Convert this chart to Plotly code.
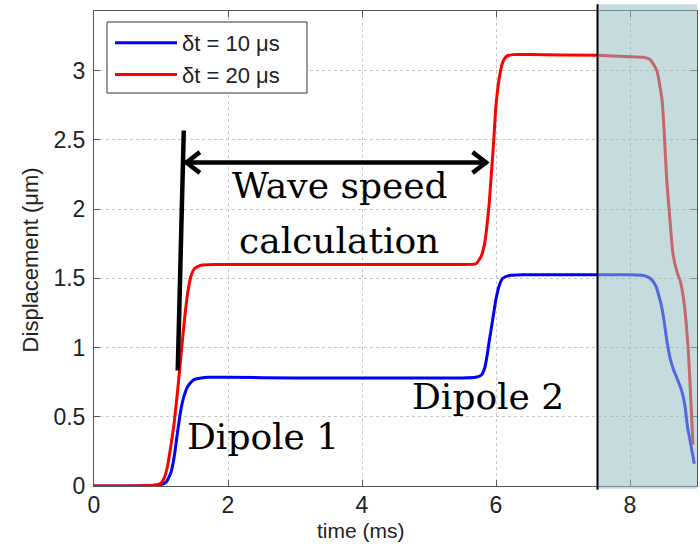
import plotly.graph_objects as go

# ---- data ----
t_blue = [0, 0.5, 1.0, 1.08, 1.15, 1.2, 1.25, 1.3, 1.35, 1.4, 1.45, 1.5, 1.6, 1.7, 2.0, 3.0, 4.0, 5.0,
          5.5, 5.7, 5.78, 5.83, 5.87, 5.9, 5.95, 6.0, 6.05, 6.1, 6.2, 6.4, 7.0, 8.0, 8.2, 8.3, 8.38,
          8.45, 8.5, 8.55, 8.6, 8.65, 8.7, 8.77, 8.82, 8.86, 8.9, 8.96]
d_blue = [0, 0, 0.01, 0.03, 0.1, 0.22, 0.4, 0.56, 0.66, 0.72, 0.75, 0.77, 0.78, 0.785, 0.785, 0.78, 0.78, 0.78,
          0.78, 0.785, 0.80, 0.85, 0.95, 1.05, 1.2, 1.35, 1.45, 1.5, 1.52, 1.525, 1.525, 1.525, 1.52, 1.50, 1.45,
          1.34, 1.22, 1.05, 0.92, 0.84, 0.78, 0.69, 0.58, 0.42, 0.32, 0.16]

t_red = [0, 0.5, 0.9, 1.0, 1.05, 1.1, 1.15, 1.2, 1.25, 1.3, 1.35, 1.4, 1.45, 1.5, 1.6, 1.8, 2.5, 3.5, 4.5,
         5.5, 5.7, 5.78, 5.83, 5.87, 5.9, 5.93, 5.96, 6.0, 6.05, 6.1, 6.15, 6.25, 6.5, 7.5, 8.0, 8.2, 8.3,
         8.4, 8.48, 8.55, 8.6, 8.64, 8.7, 8.75, 8.8, 8.87, 8.91, 8.94]
d_red = [0, 0, 0.005, 0.02, 0.06, 0.15, 0.3, 0.47, 0.7, 0.95, 1.2, 1.4, 1.52, 1.57, 1.595, 1.6, 1.6, 1.6, 1.6,
         1.6, 1.605, 1.66, 1.75, 1.9, 2.05, 2.25, 2.45, 2.75, 2.95, 3.06, 3.1, 3.115, 3.115, 3.11, 3.10, 3.095,
         3.08, 3.0, 2.78, 2.2, 1.9, 1.68, 1.55, 1.48, 1.35, 0.98, 0.6, 0.3]

series_names = ["δt = 10 μs", "δt = 20 μs"]
x_ticks = [0, 2, 4, 6, 8]
y_ticks = [0, 0.5, 1, 1.5, 2, 2.5, 3]
y_tick_labels = ["0", "0.5", "1", "1.5", "2", "2.5", "3"]

SANS = "Liberation Sans, Arial, sans-serif"
SERIF = "DejaVu Serif, serif"

fig = go.Figure()
fig.add_trace(go.Scatter(x=t_blue, y=d_blue, mode="lines", name=series_names[0],
                         line=dict(color="#0000ff", width=3, shape="spline", smoothing=0.5)))
fig.add_trace(go.Scatter(x=t_red, y=d_red, mode="lines", name=series_names[1],
                         line=dict(color="#ff0000", width=3, shape="spline", smoothing=0.5)))

# legend box (drawn as a shape so its padding matches the reference)
PW, PH = 603.0, 475.0
def px_x(px):
    return (px - 94) / PW
def px_y(py):
    return (486 - py) / PH
fig.add_shape(type="rect", xref="paper", yref="paper", x0=px_x(107), x1=px_x(307),
              y0=px_y(93), y1=px_y(22), fillcolor="white", line=dict(color="#333", width=1),
              layer="above")

# shaded overlay region
fig.add_shape(type="rect", xref="x", yref="paper", x0=7.515, x1=9.05, y0=-0.006, y1=1.014,
              fillcolor="rgb(150,190,195)", opacity=0.55, line=dict(width=0), layer="above")
fig.add_shape(type="line", xref="x", yref="paper", x0=7.515, x1=7.515, y0=-0.008, y1=1.014,
              line=dict(color="black", width=2), layer="above")

# vertical marker line
fig.add_shape(type="line", x0=1.34, y0=2.567, x1=1.25, y1=0.834, line=dict(color="black", width=4.5))
# double arrow
ya = 2.336
xa0, xa1 = 1.36, 5.87
fig.add_shape(type="line", x0=xa0, y0=ya, x1=xa1, y1=ya, line=dict(color="black", width=4.5))
dx, dy = 0.22, 0.075
fig.add_shape(type="path", path=f"M {xa0+dx},{ya+dy} L {xa0+0.02},{ya} L {xa0+dx},{ya-dy}",
              line=dict(color="black", width=4.5))
fig.add_shape(type="path", path=f"M {xa1-dx},{ya+dy} L {xa1-0.02},{ya} L {xa1-dx},{ya-dy}",
              line=dict(color="black", width=4.5))

ann_font = dict(family=SERIF, size=36, color="black")
for txt, x, y in [("Wave speed", 3.67, 2.17), ("calculation", 3.65, 1.77),
                  ("Dipole 1", 2.52, 0.357), ("Dipole 2", 5.88, 0.643)]:
    fig.add_annotation(text=txt, x=x, y=y, xref="x", yref="y", showarrow=False,
                       xanchor="center", yanchor="middle", font=ann_font)

# axis titles
fig.add_annotation(text="time (ms)", x=3.98, y=px_y(530), xref="x", yref="paper", showarrow=False,
                   xanchor="center", yanchor="middle", font=dict(family=SANS, size=21, color="#222"))
fig.add_annotation(text="Displacement (μm)", x=-64 / 603, y=0.475, xref="paper", yref="paper",
                   showarrow=False, textangle=-90, xanchor="center", yanchor="middle",
                   font=dict(family=SANS, size=22, color="#222"))

axis_common = dict(showline=True, linecolor="#555", linewidth=1, mirror="ticks", ticks="inside",
                   ticklen=6, tickcolor="#555", showgrid=True, gridcolor="#c8c8c8", griddash="dot",
                   gridwidth=1, zeroline=False, tickfont=dict(family=SANS, size=23, color="#222"))
fig.update_xaxes(range=[0, 9], tickvals=x_ticks, ticklabelstandoff=-2, **axis_common)
fig.update_yaxes(range=[0, 3.43], tickvals=y_ticks, ticktext=y_tick_labels, ticklabelstandoff=3,
                 **axis_common)

fig.update_layout(
    width=700, height=544,
    margin=dict(l=94, r=3, t=11, b=58),
    paper_bgcolor="white", plot_bgcolor="white",
    showlegend=True,
    legend=dict(x=px_x(110), y=px_y(22), xanchor="left", yanchor="top", bgcolor="rgba(0,0,0,0)",
                borderwidth=0, font=dict(family=SANS, size=22, color="#222"),
                itemwidth=62, tracegroupgap=0),
)

fig.write_html("out.html")
